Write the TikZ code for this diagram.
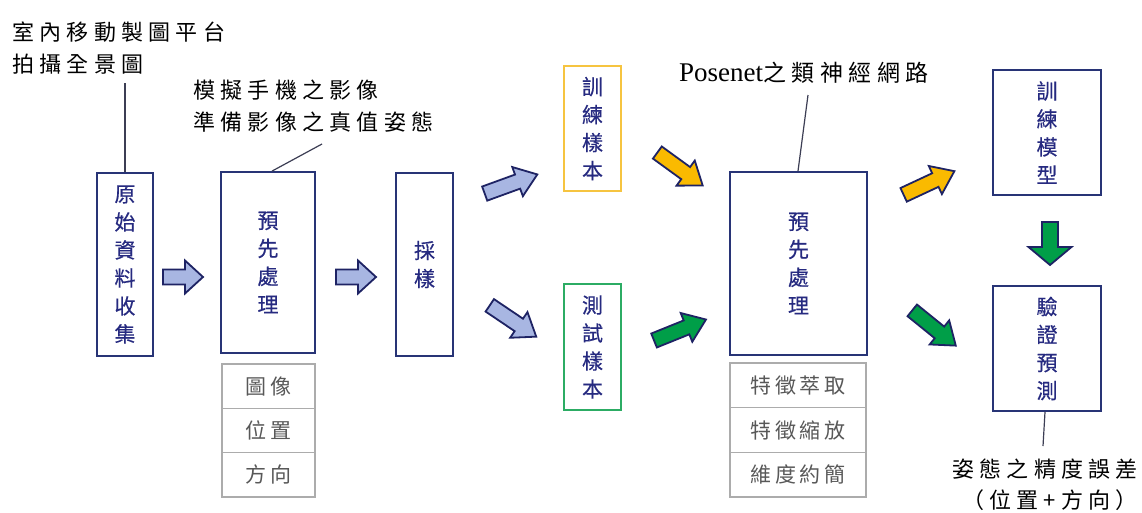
\documentclass[tikz,border=0pt]{standalone}
\usepackage{fontspec}
\setmainfont{Liberation Serif}
\newfontfamily\cjk[LetterSpace=24]{Noto Sans CJK TC}
\newfontfamily\cjkbox[FakeBold=0.4]{Noto Sans CJK TC}
\newfontfamily\cjkt[LetterSpace=18]{Noto Sans CJK TC}
\usetikzlibrary{calc}
\definecolor{navytext}{RGB}{38,42,128}
\definecolor{boxline}{RGB}{40,52,118}
\definecolor{arrline}{RGB}{30,35,100}
\definecolor{lightblue}{RGB}{168,182,226}
\definecolor{yel}{RGB}{250,186,0}
\definecolor{grn}{RGB}{0,158,72}
\definecolor{yelbox}{RGB}{246,196,64}
\definecolor{grnbox}{RGB}{44,172,100}
\definecolor{tabline}{RGB}{172,172,172}
\definecolor{tabtext}{RGB}{88,88,88}
\definecolor{leadcol}{RGB}{60,62,84}
\tikzset{
  box/.style={draw=boxline, line width=1.8pt, rectangle, inner sep=0pt, align=center,
    text=navytext, font=\cjkbox\fontsize{21}{28}\selectfont},
  tcell/.style={draw=tabline, line width=1.2pt, rectangle, inner sep=0pt,
    text=tabtext, font=\cjkt\fontsize{21}{21}\selectfont},
  lbl/.style={inner sep=0pt, text=black, font=\cjk\fontsize{22}{32}\selectfont},
  leader/.style={draw=leadcol, line width=1.2pt},
  bluearr/.style={draw=arrline, fill=lightblue, line width=1.8pt, line join=miter},
  yelarr/.style={draw=arrline, fill=yel, line width=1.8pt, line join=miter},
  grnarr/.style={draw=arrline, fill=grn, line width=1.8pt, line join=miter},
  pics/barrow/.style n args={4}{code={
    \path[pic actions] (-#1/2,-#2/2) -- (#1/2-#4,-#2/2) -- (#1/2-#4,-#3/2) -- (#1/2,0)
      -- (#1/2-#4,#3/2) -- (#1/2-#4,#2/2) -- (-#1/2,#2/2) -- cycle;}}
}
\begin{document}
\begin{tikzpicture}[x=1pt,y=-1pt]
\useasboundingbox (0,0) rectangle (1142,512);
\fill[white] (0,0) rectangle (1142,512);
% boxes
\node[box, minimum width=56pt, minimum height=183pt] (b1) at (125,264.5) {原\\始\\資\\料\\收\\集};
\node[box, minimum width=94pt, minimum height=181pt] (b2) at (268,262.5) {預\\先\\處\\理};
\node[box, minimum width=57pt, minimum height=183pt] (b3) at (424.5,264.5) {採\\樣};
\node[box, draw=yelbox, minimum width=57pt, minimum height=125pt] (b4) at (592.5,128.5) {訓\\練\\樣\\本};
\node[box, draw=grnbox, minimum width=57pt, minimum height=126pt] (b5) at (592.5,347) {測\\試\\樣\\本};
\node[box, minimum width=137pt, minimum height=183pt] (b6) at (798.5,263.5) {預\\先\\處\\理};
\node[box, minimum width=108pt, minimum height=125pt] (b7) at (1047,132.5) {訓\\練\\模\\型};
\node[box, minimum width=108pt, minimum height=125pt] (b8) at (1047,348.5) {驗\\證\\預\\測};
% tables
\node[tcell, minimum width=93pt, minimum height=44.3pt] (t1a) at (268.5,386.2) {圖像};
\node[tcell, minimum width=93pt, minimum height=44.3pt] (t1b) at (268.5,430.5) {位置};
\node[tcell, minimum width=93pt, minimum height=44.3pt] (t1c) at (268.5,474.8) {方向};
\node[tcell, minimum width=136pt, minimum height=44.7pt] (t2a) at (798,385.3) {特徵萃取};
\node[tcell, minimum width=136pt, minimum height=44.7pt] (t2b) at (798,430) {特徵縮放};
\node[tcell, minimum width=136pt, minimum height=44.7pt] (t2c) at (798,474.7) {維度約簡};
% labels
\node[lbl, anchor=west, align=left] (L1) at (12,48) {室內移動製圖平台\\拍攝全景圖};
\node[lbl, anchor=west, align=left] (L2) at (193,106) {模擬手機之影像\\準備影像之真值姿態};
\node[inner sep=0pt, anchor=west] (L3) at (679,73) {\rmfamily\fontsize{27}{27}\selectfont Posenet\cjk\fontsize{23}{23}\selectfont 之類神經網路};
\node[lbl] (L4) at (1045,469) {姿態之精度誤差};
\node[lbl] (L5) at (1050,500) {（位置+方向）};
% leaders
\coordinate (l1) at (125,83);
\coordinate (l2) at (322,144);
\coordinate (l3) at (808,95);
\coordinate (l4) at (1043,446);
\draw[leader] (l1) -- (b1.north);
\draw[leader] (l2) -- ($(b2.north)+(4,0)$);
\draw[leader] (l3) -- ($(b6.north)+(-0.5,0)$);
\draw[leader] ($(b8.south)+(-2,0)$) -- (l4);
% block arrows
\pic[bluearr] (a1) at (183,277) {barrow={40}{15}{33}{18}};
\pic[bluearr] (a2) at (356,277) {barrow={40}{15}{33}{18}};
\pic[bluearr, rotate=20] (a3) at (511,184) {barrow={56}{15}{31}{21}};
\pic[bluearr, rotate=-34] (a4) at (513,321) {barrow={56}{15}{31}{21}};
\pic[yelarr, rotate=-36] (a5) at (680,169) {barrow={56}{15}{31}{21}};
\pic[grnarr, rotate=22] (a6) at (680,330) {barrow={56}{15}{31}{21}};
\pic[yelarr, rotate=25] (a7) at (929,183) {barrow={56}{15}{31}{21}};
\pic[grnarr, rotate=-39] (a8) at (934,328) {barrow={56}{15}{31}{21}};
\pic[grnarr, rotate=-90] (a9) at (1050,243.5) {barrow={43}{16}{43}{18}};
\end{tikzpicture}
\end{document}
